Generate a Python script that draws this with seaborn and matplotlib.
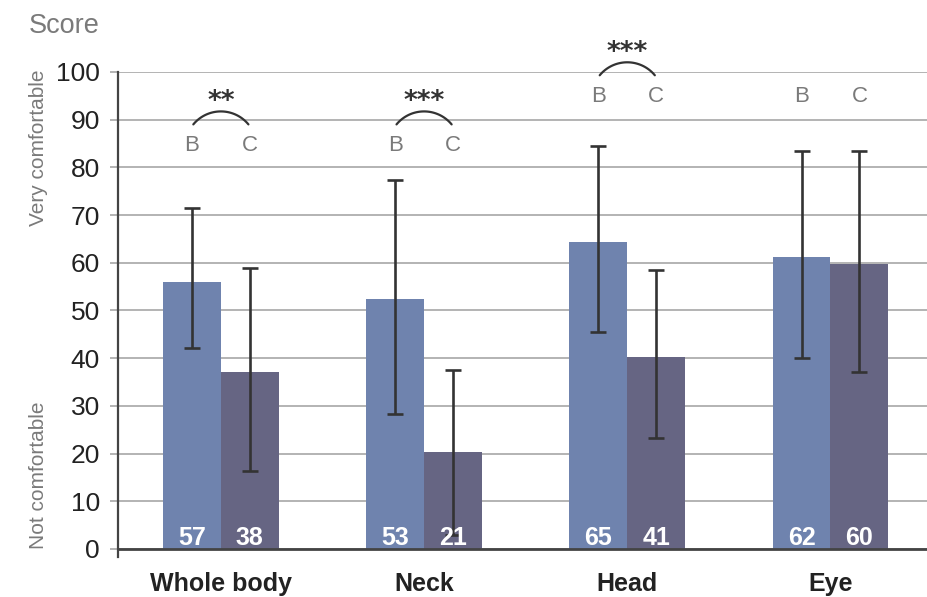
import numpy as np
import pandas as pd
import matplotlib
matplotlib.use("Agg")
import matplotlib.pyplot as plt
import seaborn as sns

# ---- data ----
parts = ["Whole body", "Neck", "Head", "Eye"]
groups = ["B", "C"]
b_mean = [56.0, 52.3, 64.3, 61.1]
c_mean = [37.0, 20.4, 40.2, 59.7]
b_low = [42.1, 28.3, 45.4, 40.0]
b_high = [71.4, 77.3, 84.5, 83.4]
c_low = [16.3, 3.0, 23.2, 37.1]
c_high = [58.8, 37.5, 58.5, 83.4]
b_labels = ["57", "53", "65", "62"]
c_labels = ["38", "21", "41", "60"]
stars = ["**", "***", "***", ""]
label_level = [83.4, 83.4, 93.7, 93.7]
yticks = [0, 10, 20, 30, 40, 50, 60, 70, 80, 90, 100]

df = pd.DataFrame({
    "part": parts * 2,
    "group": ["B"] * 4 + ["C"] * 4,
    "score": b_mean + c_mean,
})

sns.set_theme(style="white")
plt.rcParams["font.family"] = ["Liberation Sans", "DejaVu Sans"]

fig = plt.figure(figsize=(9.28, 5.97), dpi=100)
ax = fig.add_axes([0.127, 0.067, 0.873, 0.8125])

palette = {"B": "#6f83ae", "C": "#666583"}
sns.barplot(data=df, x="part", y="score", hue="group", order=parts,
            hue_order=groups, palette=palette, width=0.57, dodge=True,
            errorbar=None, legend=False, saturation=1, linewidth=0, ax=ax,
            zorder=2)

# bar centres from seaborn's patches
bars = [p for p in ax.patches if p.get_width() > 0]
bars_b = sorted(bars[:4], key=lambda p: p.get_x())
bars_c = sorted(bars[4:8], key=lambda p: p.get_x())
xb = [p.get_x() + p.get_width() / 2 for p in bars_b]
xc = [p.get_x() + p.get_width() / 2 for p in bars_c]

err_kw = dict(fmt="none", ecolor="#333333", elinewidth=1.9, capsize=6,
              capthick=1.9, zorder=4)
ax.errorbar(xb, b_mean, yerr=[np.subtract(b_mean, b_low), np.subtract(b_high, b_mean)], **err_kw)
ax.errorbar(xc, c_mean, yerr=[np.subtract(c_mean, c_low), np.subtract(c_high, c_mean)], **err_kw)

# value labels inside bars
for x, t in zip(xb, b_labels):
    ax.text(x, 0.8, t, ha="center", va="baseline", color="white",
            fontsize=18, fontweight="bold", zorder=5)
for x, t in zip(xc, c_labels):
    ax.text(x, 0.8, t, ha="center", va="baseline", color="white",
            fontsize=18, fontweight="bold", zorder=5)

# significance annotations
gray = "#7a7a7a"
t = np.linspace(-np.deg2rad(50.6), np.deg2rad(50.6), 60)
for i in range(4):
    L = label_level[i]
    ax.text(xb[i], L, "B", ha="center", va="baseline", color=gray,
            fontsize=16, clip_on=False)
    ax.text(xc[i], L, "C", ha="center", va="baseline", color=gray,
            fontsize=16, clip_on=False)
    if stars[i]:
        xm = (xb[i] + xc[i]) / 2
        rx, ry = 0.1755, 7.45
        yc = L + 5.6 - ry * np.cos(t[0])
        ax.plot(xm + rx * np.sin(t), yc + ry * np.cos(t), color="#333333",
                lw=1.6, clip_on=False, zorder=5)
        ax.text(xm, L + 8.9, stars[i], ha="center", va="baseline",
                color="#333333", fontsize=19, fontweight="bold",
                family=["DejaVu Sans"], clip_on=False)

# axes styling
ax.set_xlim(-0.507, 3.48)
ax.set_ylim(-1.7, 100)
ax.set_yticks(yticks)
ax.set_yticklabels([str(v) for v in yticks])
ax.yaxis.grid(True, color="#b3b3b3", lw=1.4, zorder=0)
ax.set_axisbelow(True)
ax.axhline(0, color="#444444", lw=2, zorder=3)
for s in ["top", "right", "bottom"]:
    ax.spines[s].set_visible(False)
ax.spines["left"].set_color("#444444")
ax.spines["left"].set_linewidth(1.6)
ax.tick_params(axis="y", length=6, width=1.4, color="#b3b3b3", pad=7,
               labelsize=19, labelcolor="#222222", left=True)
ax.tick_params(axis="x", length=0, pad=10.5, labelsize=18, labelcolor="#222222")
for lbl in ax.get_xticklabels():
    lbl.set_fontweight("bold")
ax.set_xlabel("")
ax.set_ylabel("")

fig.text(0.031, 0.957, "Score", ha="left", va="center", color=gray, fontsize=19.5)
fig.text(0.041, 0.752, "Very comfortable", rotation=90, ha="center",
         va="center", color=gray, fontsize=15)
fig.text(0.041, 0.204, "Not comfortable", rotation=90, ha="center",
         va="center", color=gray, fontsize=15)

fig.savefig("out.png", dpi=100)
